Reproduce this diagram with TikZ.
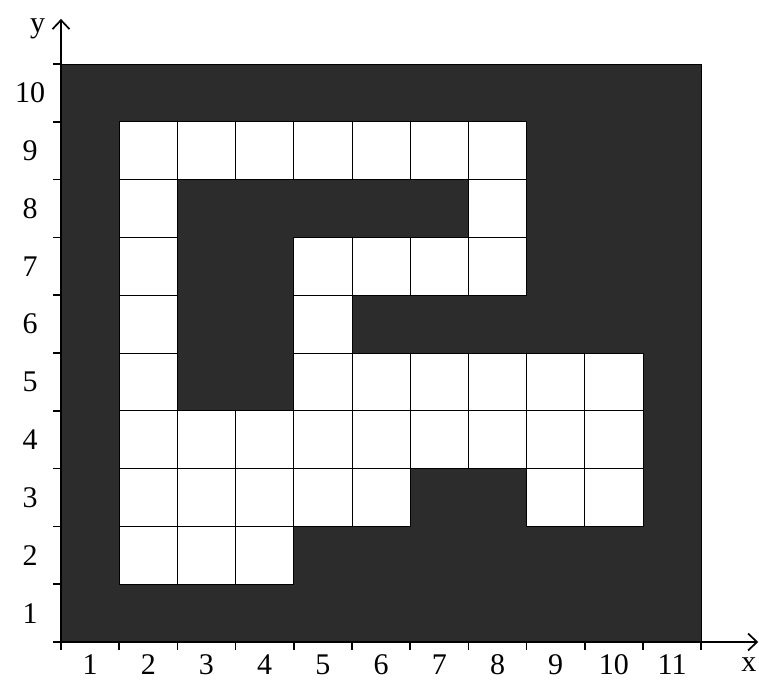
\documentclass[tikz,border=0pt]{standalone}
\usepackage{fontspec}
\setmainfont{Liberation Serif}
\usetikzlibrary{arrows.meta}
\definecolor{darkfill}{RGB}{44,44,44}
\tikzset{
  cellbox/.style={fill=white,draw=black,line width=0.9pt},
  axisline/.style={line width=1.7pt,-{Straight Barb[length=9pt,width=17pt,line width=1.7pt]}},
  tickline/.style={line width=1.6pt},
  lbl/.style={font=\fontsize{30}{30}\selectfont,inner sep=0pt}
}
\begin{document}
\begin{tikzpicture}[x=58.2pt,y=57.8pt]
\useasboundingbox (-1.048,-0.675) rectangle (11.993,11.107);
% dark background
\fill[darkfill,draw=black,line width=0.8pt] (0,0) rectangle (11,10);
% white cells: col/row
\foreach \c/\r in {2/9,3/9,4/9,5/9,6/9,7/9,8/9,
                   2/8,8/8,
                   2/7,5/7,6/7,7/7,8/7,
                   2/6,5/6,
                   2/5,5/5,6/5,7/5,8/5,9/5,10/5,
                   2/4,3/4,4/4,5/4,6/4,7/4,8/4,9/4,10/4,
                   2/3,3/3,4/3,5/3,6/3,9/3,10/3,
                   2/2,3/2,4/2}
  \draw[cellbox] ({\c-1},{\r-1}) rectangle (\c,\r);
% axes
\coordinate (O) at (0,0);
\coordinate (xend) at (11.98,0);
\coordinate (yend) at (0,10.78);
\draw[axisline] (O) -- (xend);
\draw[axisline] (O) -- (yend);
% ticks
\foreach \i in {0,...,11} \draw[tickline] (\i,0) -- (\i,-0.14);
\foreach \j in {0,...,10} \draw[tickline] (0,\j) -- (-0.14,\j);
% tick labels
\foreach \i in {1,...,11} \node[lbl] (xl\i) at ({\i-0.5},-0.39) {\i};
\foreach \j in {1,...,10} \node[lbl] (yl\j) at (-0.53,{\j-0.5}) {\j};
\node[lbl] (xlab) at (11.82,-0.39) {x};
\node[lbl] (ylab) at (-0.4,10.6) {y};
\end{tikzpicture}
\end{document}
